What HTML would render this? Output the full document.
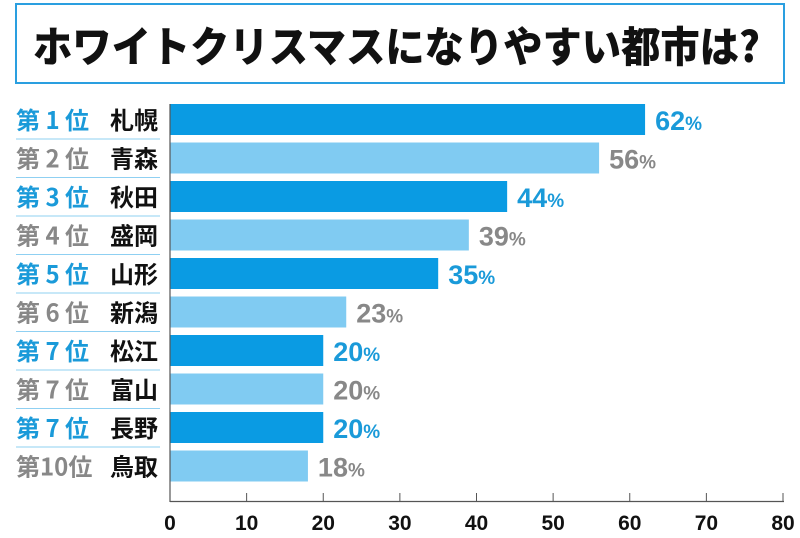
<!DOCTYPE html>
<html><head><meta charset="utf-8"><style>
body{margin:0;width:800px;height:533px;background:#fff;overflow:hidden;font-family:"Liberation Sans","Noto Sans CJK JP",sans-serif}
</style></head><body>
<svg width="800" height="533" id="c">
<rect x="16" y="4" width="768" height="79" fill="#fff" stroke="#2a9fe0" stroke-width="2"/>
<text x="33" y="62" textLength="727" lengthAdjust="spacingAndGlyphs" font-size="42" font-weight="900" fill="#111" font-family="'Noto Sans CJK JP',sans-serif">ホワイトクリスマスになりやすい都市は?</text>
</svg>
<script>
const ranks=['第 1 位','第 2 位','第 3 位','第 4 位','第 5 位','第 6 位','第 7 位','第 7 位','第 7 位','第10位'];
const cities=['札幌','青森','秋田','盛岡','山形','新潟','松江','富山','長野','鳥取'];
const values=[62,56,44,39,35,23,20,20,20,18];
const ticks=[0,10,20,30,40,50,60,70,80];
const svg=document.getElementById('c');const NS='http://www.w3.org/2000/svg';
const x=v=>170+v*613/80;
const rowTop=i=>104+i*38.5;
function mk(t,a,txt){const e=document.createElementNS(NS,t);for(const k in a)e.setAttribute(k,a[k]);if(txt!==undefined)e.textContent=txt;svg.appendChild(e);return e;}
values.forEach((v,i)=>{
 const dark=i%2===0;const y=rowTop(i);
 const b=mk('rect',{x:x(0),y:y,width:x(v)-x(0),height:31,fill:dark?'#0a9be3':'#80cbf2'});
 
 
 const r=mk('text',{x:16,y:y+25,'font-size':24,'font-weight':'bold',fill:dark?'#1a9ad9':'#888','font-family':"'Noto Sans CJK JP',sans-serif"},ranks[i]);
 
 
 const c=mk('text',{x:110,y:y+25,'font-size':24,'font-weight':'bold',fill:'#111','font-family':"'Noto Sans CJK JP',sans-serif"},cities[i]);
 
 
 if(i<9){const l=mk('line',{x1:16,x2:160,y1:y+35,y2:y+35,stroke:'#8fd0f2','stroke-width':1});
 
 }
 const t=mk('text',{x:x(v)+10,y:y+26,'font-size':27,'font-weight':'bold',fill:dark?'#1a9ad9':'#888'});
 
 
 t.innerHTML=v+'<tspan font-size="19">%</tspan>';
});
const ax=mk('line',{x1:170,x2:170,y1:104,y2:502,stroke:'#555','stroke-width':1.2});


const bx=mk('line',{x1:170,x2:784,y1:501.5,y2:501.5,stroke:'#555','stroke-width':1.2});


ticks.forEach(v=>{
 const tk=mk('line',{x1:x(v),x2:x(v),y1:493,y2:502,stroke:'#555','stroke-width':1});
 
 
 const tl=mk('text',{x:x(v),y:530,'text-anchor':'middle','font-size':21,'font-weight':'bold',fill:'#111'},v);
 
 
});
</script>
</body></html>
